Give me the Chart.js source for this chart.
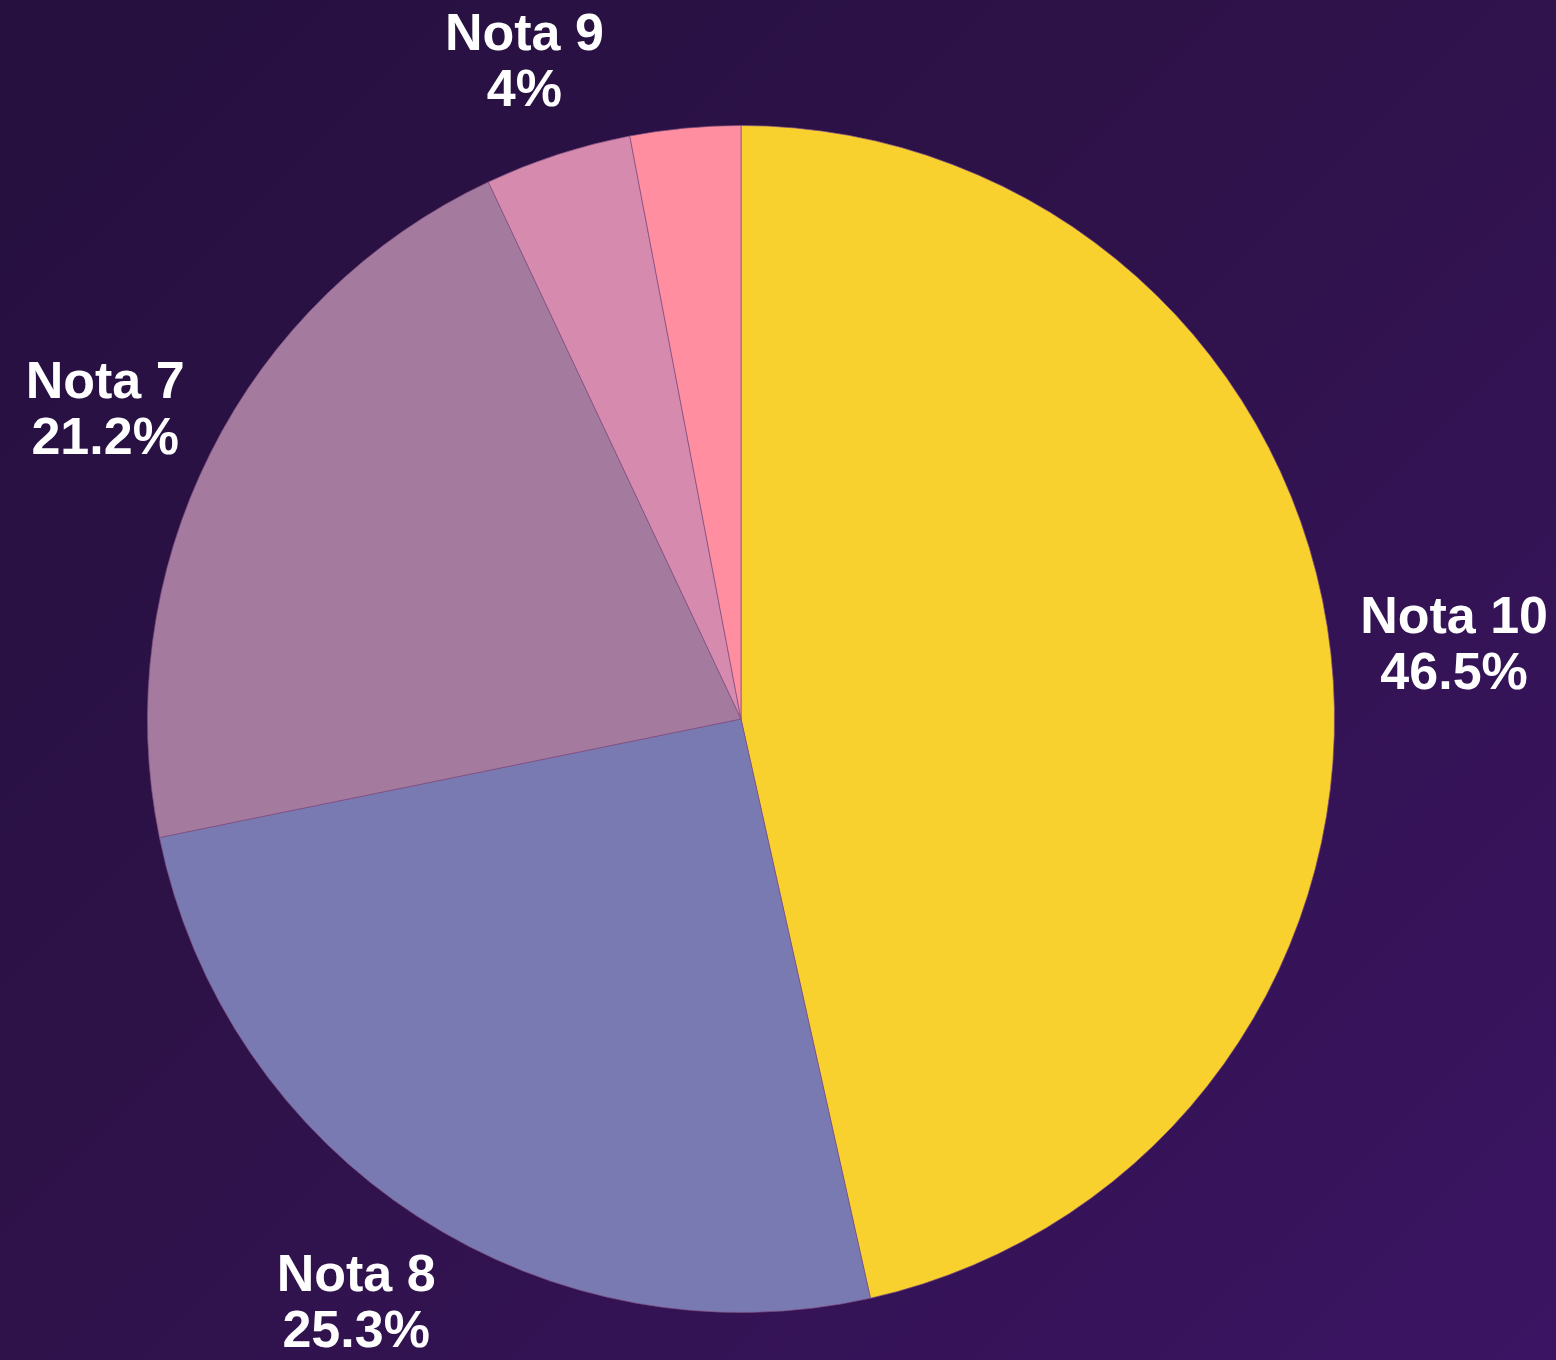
<!DOCTYPE html>
<html>
<head>
<meta charset="utf-8">
<script src="https://cdn.jsdelivr.net/npm/chart.js@4.4.1/dist/chart.umd.min.js"></script>
<style>
    html, body {
        margin: 0;
        padding: 0;
        width: 1556px;
        height: 1360px;
        overflow: hidden;
        background: linear-gradient(135deg, #25103f 0%, #2e1249 45%, #3b1463 100%);
    }
    canvas { display: block; }
</style>
</head>
<body>
<canvas id="notasChart" width="1556" height="1360"></canvas>
<script>
// Chart data
const categories = ['Nota 10', 'Nota 8', 'Nota 7', 'Nota 9', 'Nota 6'];
const percentages = [46.5, 25.3, 21.2, 4, 3];
const sliceColors = ['#f9d12f', '#7a7ab3', '#a47a9e', '#d68aae', '#ff8fa0'];

// Labels outside the slices, skipped when they would overlap an earlier one
const outsideLabels = {
    id: 'outsideLabels',
    afterDatasetsDraw(chart, args, opts) {
        const ctx = chart.ctx;
        const meta = chart.getDatasetMeta(0);
        const placed = [];
        ctx.save();
        ctx.font = 'bold ' + opts.size + 'px "Liberation Sans", Arial, sans-serif';
        ctx.fillStyle = '#ffffff';
        ctx.textAlign = 'center';
        ctx.textBaseline = 'middle';
        meta.data.forEach(function (arc, i) {
            const p = arc.getProps(['x', 'y', 'startAngle', 'endAngle', 'outerRadius'], true);
            const mid = (p.startAngle + p.endAngle) / 2;
            const lines = [chart.data.labels[i], chart.data.datasets[0].data[i] + '%'];
            const w = Math.max(...lines.map(t => ctx.measureText(t).width));
            const h = opts.lineGap * 2;
            const anchor = p.outerRadius + opts.gap;
            let cx = p.x + Math.cos(mid) * anchor + Math.cos(mid) * w / 2 + opts.shiftX;
            let cy = p.y + Math.sin(mid) * anchor + Math.sin(mid) * h / 2 + opts.shiftY;
            // keep inside the canvas
            cx = Math.min(cx, chart.width - opts.margin - w / 2);
            cx = Math.max(cx, opts.margin + w / 2);
            const box = { l: cx - w / 2, r: cx + w / 2, t: cy - h / 2, b: cy + h / 2 };
            const hit = placed.some(o => box.l < o.r && box.r > o.l && box.t < o.b && box.b > o.t);
            if (hit) return;
            placed.push(box);
            ctx.fillText(lines[0], cx, cy - opts.lineGap / 2);
            ctx.fillText(lines[1], cx, cy + opts.lineGap / 2);
        });
        ctx.restore();
    }
};

const ctx = document.getElementById('notasChart').getContext('2d');
const notasChart = new Chart(ctx, {
    type: 'pie',
    data: {
        labels: categories,
        datasets: [{
            data: percentages,
            backgroundColor: sliceColors,
            borderColor: 'rgba(130, 80, 130, 0.7)',
            borderWidth: 1,
            hoverOffset: 0
        }]
    },
    options: {
        responsive: false,
        animation: false,
        layout: {
            padding: { left: 147, right: 221, top: 125, bottom: 47 }
        },
        plugins: {
            legend: { display: false },
            tooltip: { enabled: false },
            outsideLabels: {
                size: 52,
                lineGap: 56,
                gap: 44,
                shiftX: 5,
                shiftY: 4,
                margin: 8
            }
        }
    },
    plugins: [outsideLabels]
});
</script>
</body>
</html>
